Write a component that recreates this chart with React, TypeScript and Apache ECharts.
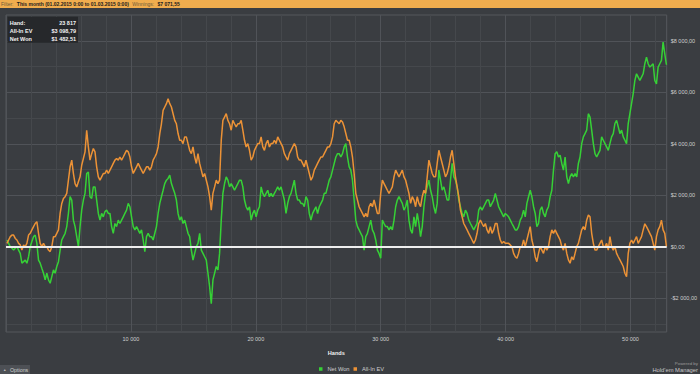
import React, { useEffect, useRef } from 'react';
import * as echarts from 'echarts';

// Sampling of the hands axis (one reading every HAND_STEP hands)
const FIRST_HAND = 77;
const HAND_STEP = 133;
const HAND_MAX = 52900;

// Net Won ($)
const NET_WON = [
  270, 140, 10, -50, -120, -50, 10, -120, -250, -630,
  -570, -510, -630, -380, 10, 210, 400, 460, 140, -510,
  -630, -830, -1020, -1280, -1020, -1280, -1410, -1150, -890, -1020,
  -760, -570, -120, 270, 400, 530, 790, 1300, 1950, 1820,
  1040, 790, 400, 10, 790, 1430, 1820, 2080, 2850, 2910,
  1950, 1880, 2330, 2330, 1820, 1300, 1040, 1300, 1170, 1370,
  1430, 1300,
  1300, 790, 530, 910, 790, 1040, 910, 1040, 1170, 1300,
  1430, 1690, 1560, 1170, 790, 660, 790, 660, 530, 660,
  270, -180, 400, 530, 400, 400, 270, 530, 790, 1300,
  1690, 1950, 2200, 2460, 2590, 2660, 2790, 2460, 2270, 2080,
  1820, 1300, 1040, 1170, 910, 1040, 790, 530, 400, -120,
  -510, -250, 10, 140, 530, -120, -250, -380, -510, -1020,
  -1540, -2200, -1280, -1020, -760, -890,
  -250, 1040, 2080, 2460, 2720, 2590, 2330, 2460, 2330, 2200,
  2330, 2460, 2590, 2590, 2330, 1820, 1560, 1430, 1560, 1040,
  1300, 1430, 1170, 1430, 1560, 2330, 2080, 1950, 2080, 2200,
  1950, 2080, 1950, 2080, 2200, 2330, 2200, 2330, 2080, 1820,
  1300, 1690, 1950, 2080, 2330, 2590, 2080, 1820, 1820, 1690,
  1690, 1560, 1950, 1820, 1300, 1040, 1300, 1430, 1560, 1300,
  1560, 1690, 1820, 2080, 2080, 2330,
  2590, 2720, 2980, 3240, 3490, 3620, 3620, 3490, 3620, 3880,
  4010, 3490, 3110, 2980, 2590, 1820, 1040, 790, 660, 530,
  400, -120, 400, 530, 790, 1040, 660, 530, 270, -120,
  -250, -440, 1040, 910, 790, 790, 660, 790, 660, 1040,
  1560, 1820, 1950, 1820, 1690, 1430, 1560, 1820, 1040, 660,
  530, 1170, 790, 1300, 910, 400, 790, 1560, 2080, 2330,
  2590, 2200, 1950, 1560, 1300, 1690,
  2980, 2590, 2200, 2330, 2080, 1820, 1820, 2590, 3240, 2720,
  2590, 2330, 1820, 1560, 1300, 1170, 1430, 1300, 1040, 910,
  790, 660, 790, 910, 1430, 1560, 1430, 1560, 1690, 1820,
  1820, 1560, 1690, 1820, 2080, 1820, 1560, 1430, 1300, 1170,
  1300, 1240, 1170, 1040, 910, 790, 660, 660, 790, 1040,
  1170, 1430, 1170, 1690, 1950, 2200, 1950, 1560, 1300, 790,
  910, 1430, 1560, 1300, 1170, 1430,
  1560, 1950, 2200, 2980, 3620, 3690, 3490, 3560, 3240, 2980,
  3490, 2720, 2460, 2720, 2850, 2720, 2850, 2720, 3240, 3490,
  4010, 4270, 4400, 4530, 5170, 5040, 4530, 4010, 3620, 3490,
  3620, 3750, 4270, 4140, 4010, 3880, 3750, 4010, 4270, 4400,
  4790, 4910, 4660, 4400, 4530, 4270, 4140, 4010, 4790, 5170,
  5560, 5950, 6460, 6720, 6590, 6460, 6590, 6720, 7110, 7360,
  7110, 6980, 7040, 7110, 6460, 6330, 6980, 7110, 7240, 7950,
  7490, 7070,
];

// All-In EV ($)
const ALL_IN_EV = [
  140, 270, 400, 460, 460, 330, 270, 140, 80, -120,
  80, 10, 140, 460, 530, 660, 790, 910, 980, 530,
  140, 10, 140, 10, 10, -120, -180, 10, 400, 400,
  530, 660, 1300, 1690, 1880, 1950, 2080, 2590, 3110, 3370,
  2850, 2460, 2330, 2530, 2720, 3170, 3430, 3690, 4530, 3880,
  3370, 3620, 3820, 3690, 3110, 2720, 2590, 2720, 2850, 2850,
  2980, 2850,
  2980, 3110, 3240, 3370, 3430, 3370, 3490, 3370, 3490, 3620,
  3750, 3690, 3490, 3110, 2850, 2980, 3110, 3240, 3110, 2980,
  2850, 2980, 3110, 3110, 2980, 3110, 3370, 3490, 3620, 3880,
  4400, 4780, 5300, 5430, 5560, 5750, 5560, 5430, 5170, 4910,
  4780, 4400, 4140, 4140, 4010, 4270, 4270, 4010, 3750, 3620,
  3880, 3490, 3240, 3620, 3240, 2980, 2720, 2850, 2590, 2330,
  1950, 1430, 2080, 2330, 2590, 2460,
  2590, 4140, 4910, 5040, 5170, 4910, 4780, 4530, 4910, 4780,
  4660, 4780, 4780, 4910, 4530, 4140, 3880, 4010, 3750, 3370,
  3490, 3750, 3880, 4010, 4010, 4270, 3880, 3750, 4010, 4140,
  3880, 4010, 4010, 4140, 4010, 4270, 4140, 4010, 3880, 3620,
  3490, 3370, 3620, 3750, 3880, 4010, 3880, 3490, 3370, 3370,
  3240, 3110, 3370, 3110, 2850, 2590, 2720, 2980, 3110, 3240,
  3370, 3490, 3490, 3620, 3750, 3880,
  3880, 4010, 4270, 4780, 4910, 4850, 4780, 4910, 4850, 4660,
  4400, 4140, 4140, 3880, 3490, 2850, 2080, 1820, 1560, 1430,
  1300, 1170, 1300, 1170, 1560, 1690, 1560, 1820, 1560, 1300,
  1300, 2080, 2590, 2460, 2330, 2200, 2080, 2200, 2330, 2720,
  2980, 2850, 2720, 2850, 2980, 2720, 2590, 2330, 2080, 1690,
  1950, 1820, 1560, 1950, 1690, 1560, 1950, 2200, 2080, 2720,
  3370, 3110, 2850, 2720, 2720, 3240,
  3750, 3490, 3240, 2980, 2720, 2850, 3110, 3490, 3750, 3240,
  2720, 2330, 1950, 1430, 1170, 910, 790, 660, 530, 400,
  270, 140, 270, 530, 910, 1040, 910, 790, 910, 660,
  530, 790, 530, 660, 910, 910, 530, 270, 140, 210,
  140, 140, 140, 80, 10, -250, -380, -440, -250, 10,
  10, 270, 10, 270, 530, 790, 270, 10, -380, -570,
  -250, 10, -120, -250, 10, -120,
  10, 400, 660, 530, 660, 530, 400, 270, 10, -120,
  140, -250, -500, -630, -380, -500, -250, 10, 140, 400,
  660, 790, 660, 1040, 1240, 1170, 530, 140, -120, -120,
  10, 140, 270, 10, 10, 140, -120, 400, 10, -120,
  10, -250, -380, -500, -630, -760, -1020, -1150, -250, 140,
  270, 140, 270, 400, 140, 270, 400, 660, 900, 790,
  660, 530, 400, 140, -120, 400, 660, 790, 1040, 660,
  530, 10,
];

const Y_MIN = -3300;
const Y_MAX = 9000;
const Y_MAJOR = [-2000, 0, 2000, 4000, 6000, 8000];
const Y_MINOR = [-3000, -1000, 1000, 3000, 5000, 7000];

const TOOLTIP_ROWS = [
  ['Hand:', '23 817'],
  ['All-In EV', '$3 098,79'],
  ['Net Won', '$1 482,51'],
];
const FILTER_TEXT = 'This month (01.02.2015 0:00 to 01.03.2015 0:00)';
const WINNINGS = '$7 071,55';

const GREEN = '#36d136';
const ORANGE = '#ec9236';
const BG = '#3a3d41';
const FONT = '"Liberation Sans", Arial, sans-serif';

const group = (n: number) => String(Math.abs(n)).replace(/\B(?=(\d{3})+(?!\d))/g, ' ');
const money = (n: number) => (n < 0 ? '-' : '') + '$' + group(n) + ',00';

export default function App() {
  const ref = useRef<HTMLDivElement>(null);

  useEffect(() => {
    document.body.style.margin = '0';
    if (!ref.current) return;
    const chart = echarts.init(ref.current, undefined, { renderer: 'svg' });

    const toPairs = (arr: number[]) => arr.map((v, i) => [FIRST_HAND + i * HAND_STEP, v]);

    const graphic: any[] = [
      { type: 'rect', shape: { x: 0, y: 0, width: 700, height: 8 }, style: { fill: '#f0ad4e' }, silent: true },
      {
        type: 'text', x: 1, y: 4.2, silent: true,
        style: {
          text: `{a|Filter:} {b|${FILTER_TEXT}} {a|Winnings:} {b|${WINNINGS}}`,
          verticalAlign: 'middle',
          rich: {
            a: { fontSize: 5, fontFamily: FONT, fill: '#6e5a3a' },
            b: { fontSize: 5, fontFamily: FONT, fontWeight: 'bold', fill: '#1c1c1c' },
          },
        },
      },
      { type: 'rect', shape: { x: 7.5, y: 16.7, width: 70.5, height: 26 }, style: { fill: '#26282b' }, silent: true, z: 100 },
      {
        type: 'rect', shape: { x: 0, y: 365, width: 30, height: 9 }, style: { fill: '#4d5055' }, silent: true,
      },
      {
        type: 'text', x: 3, y: 370, silent: true,
        style: { text: '▲', fontSize: 3.5, fill: '#bbbbbb', verticalAlign: 'middle', fontFamily: FONT },
      },
      {
        type: 'text', x: 10, y: 370, silent: true,
        style: { text: 'Options', fontSize: 5.3, fill: '#d0d0d0', verticalAlign: 'middle', fontFamily: FONT },
      },
      {
        type: 'text', x: 698, y: 363.3, silent: true,
        style: { text: 'Powered by', fontSize: 4.4, fill: '#9a9a9a', align: 'right', verticalAlign: 'middle', fontFamily: FONT },
      },
      {
        type: 'text', x: 698, y: 369.8, silent: true,
        style: { text: "Hold'em Manager", fontSize: 5.8, fill: '#c8c8c8', align: 'right', verticalAlign: 'middle', fontFamily: FONT },
      },
    ];
    TOOLTIP_ROWS.forEach((row, i) => {
      const y = 22.7 + i * 8;
      graphic.push({
        type: 'text', x: 9.7, y, z: 101, silent: true,
        style: { text: row[0], fontSize: 5.5, fontWeight: 'bold', fill: '#f2f2f2', verticalAlign: 'middle', fontFamily: FONT },
      });
      graphic.push({
        type: 'text', x: 76, y, z: 101, silent: true,
        style: { text: row[1], fontSize: 5.5, fontWeight: 'bold', fill: '#f2f2f2', align: 'right', verticalAlign: 'middle', fontFamily: FONT },
      });
    });

    chart.setOption({
      animation: false,
      backgroundColor: BG,
      textStyle: { fontFamily: FONT },
      grid: {
        left: 6, right: 32, top: 15, bottom: 42,
        show: true, borderColor: '#55585d', borderWidth: 1, backgroundColor: 'transparent',
      },
      legend: {
        data: [
          { name: 'Net Won', icon: 'rect' },
          { name: 'All-In EV', icon: 'rect' },
        ],
        left: 319, top: 366, padding: 0,
        itemWidth: 3.5, itemHeight: 3.5, itemGap: 4,
        textStyle: { color: '#cfcfcf', fontSize: 5.7, fontFamily: FONT },
      },
      xAxis: {
        type: 'value', min: 0, max: HAND_MAX, interval: 10000,
        name: 'Hands', nameLocation: 'middle', nameGap: 18,
        nameTextStyle: { color: '#f0f0f0', fontWeight: 'bold', fontSize: 5.6, fontFamily: FONT },
        axisLine: { show: false }, axisTick: { show: false },
        axisLabel: {
          color: '#cfcfcf', fontSize: 5.5, margin: 4, showMinLabel: false, showMaxLabel: false,
          formatter: (v: number) => group(v),
        },
        splitLine: { show: true, lineStyle: { color: '#505358', width: 1 } },
        minorTick: { show: false, splitNumber: 5 },
        minorSplitLine: { show: true, lineStyle: { color: '#45484c', width: 1 } },
      },
      yAxis: [
        {
          type: 'value', min: Y_MIN, max: Y_MAX, position: 'right',
          axisLine: { show: false },
          axisTick: { show: false, customValues: Y_MAJOR },
          axisLabel: {
            customValues: Y_MAJOR, color: '#cfcfcf', fontSize: 5.5, margin: 4,
            formatter: (v: number) => money(v),
          },
          splitLine: { show: true, lineStyle: { color: '#505358', width: 1 } },
        },
        {
          type: 'value', min: Y_MIN, max: Y_MAX, position: 'right',
          axisLine: { show: false },
          axisTick: { show: false, customValues: Y_MINOR },
          axisLabel: { show: false, customValues: Y_MINOR },
          splitLine: { show: true, lineStyle: { color: '#45484c', width: 1 } },
        },
      ],
      series: [
        {
          name: 'Net Won', type: 'line', yAxisIndex: 0, data: toPairs(NET_WON),
          symbol: 'none', showSymbol: false,
          lineStyle: { color: GREEN, width: 1.5 }, itemStyle: { color: GREEN },
        },
        {
          name: 'All-In EV', type: 'line', yAxisIndex: 0, data: toPairs(ALL_IN_EV),
          symbol: 'none', showSymbol: false,
          lineStyle: { color: ORANGE, width: 1.5 }, itemStyle: { color: ORANGE },
          markLine: {
            silent: true, symbol: 'none', animation: false,
            label: { show: false },
            lineStyle: { color: '#eeeeee', width: 2, type: 'solid' },
            data: [{ yAxis: 0 }],
          },
        },
      ],
      graphic,
    });

    return () => chart.dispose();
  }, []);

  return <div ref={ref} style={{ width: 700, height: 374, background: BG }} />;
}
